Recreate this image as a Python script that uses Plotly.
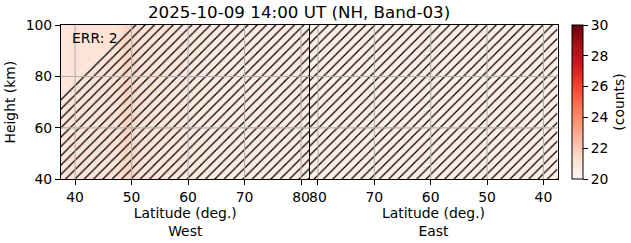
import plotly.graph_objects as go

# ---------------- data ----------------
lat_bins = [38, 39, 40, 41, 42, 43, 44, 45, 46, 47, 48, 49, 50, 51, 52, 53, 54, 55, 56, 57, 58, 59,
            60, 61, 62, 63, 64, 65, 66, 67, 68, 69, 70, 71, 72, 73, 74, 75, 76, 77, 78, 79, 80, 81]
heights = [40, 50, 60, 70, 80, 90, 100]
west_counts = [20.9, 21.0, 21.0, 21.0, 21.0, 21.0, 21.0, 21.1, 21.1, 21.1, 21.3, 21.6, 21.5, 21.2,
               21.0, 21.0, 20.9, 20.9, 20.9, 20.8, 20.8, 20.8, 20.7, 20.7, 20.7, 20.6, 20.6, 20.6,
               20.6, 20.5, 20.5, 20.5, 20.5, 20.5, 20.5, 20.5, 20.5, 20.5, 20.5, 20.5, 20.5, 20.5,
               20.5, 20.5]
east_counts = [20.4, 20.4, 20.4, 20.4, 20.4, 20.4, 20.4, 20.4, 20.4, 20.4, 20.4, 20.4, 20.4, 20.4,
               20.4, 20.4, 20.4, 20.4, 20.4, 20.4, 20.4, 20.4, 20.4, 20.4, 20.4, 20.4, 20.4, 20.4,
               20.4, 20.4, 20.4, 20.4, 20.4, 20.4, 20.4, 20.4, 20.4, 20.4, 20.4, 20.4, 20.4, 20.4,
               20.4, 20.4]
# boundary of the valid (un-hatched) region in the West panel
mask_lat = [37.5, 50.2]
mask_ht = [72, 100]
lat_ticks = [40, 50, 60, 70, 80]
ht_ticks = [40, 60, 80, 100]
cbar_ticks = [20, 22, 24, 26, 28, 30]
title_text = "2025-10-09 14:00 UT (NH, Band-03)"
err_text = "ERR: 2"

# ---------------- layout constants ----------------
W, H = 631, 243
LAT_MIN, LAT_MAX = 37.5, 81.5
HT_MIN, HT_MAX = 40, 100
FONT = "DejaVu Sans"
FS = 13.9

def px(x):
    return x / W

def py(y):
    return (H - y) / H

reds = ["#fff5f0", "#fee0d2", "#fcbba1", "#fc9272", "#fb6a4a",
        "#ef3b2c", "#cb181d", "#a50f15", "#67000d"]
colorscale = [[i / 8, c] for i, c in enumerate(reds)]

z_west = [list(west_counts) for _ in heights]
z_east = [list(east_counts) for _ in heights]

fig = go.Figure()
fig.add_trace(go.Heatmap(x=lat_bins, y=heights, z=z_west, coloraxis="coloraxis",
                         xaxis="x", yaxis="y", hoverinfo="skip"))
fig.add_trace(go.Heatmap(x=lat_bins, y=heights, z=z_east, coloraxis="coloraxis",
                         xaxis="x2", yaxis="y2", hoverinfo="skip"))

pattern = dict(shape="/", size=6.6, solidity=0.2, fgcolor="black",
               bgcolor="rgba(0,0,0,0)", fillmode="replace")
# West hatch: everything except the upper-left valid wedge
hx = [LAT_MIN, LAT_MAX, LAT_MAX, mask_lat[1], mask_lat[0], LAT_MIN]
hy = [HT_MIN, HT_MIN, HT_MAX, mask_ht[1], mask_ht[0], HT_MIN]
fig.add_trace(go.Scatter(x=hx, y=hy, fill="toself", mode="lines", line=dict(width=0),
                         fillcolor="rgba(0,0,0,0)", fillpattern=pattern,
                         xaxis="x", yaxis="y", hoverinfo="skip", showlegend=False))
# East hatch: whole panel
ex = [LAT_MIN, LAT_MAX, LAT_MAX, LAT_MIN, LAT_MIN]
ey = [HT_MIN, HT_MIN, HT_MAX, HT_MAX, HT_MIN]
fig.add_trace(go.Scatter(x=ex, y=ey, fill="toself", mode="lines", line=dict(width=0),
                         fillcolor="rgba(0,0,0,0)", fillpattern=pattern,
                         xaxis="x2", yaxis="y2", hoverinfo="skip", showlegend=False))

x_left = (px(61), px(309.5))
x_right = (px(309.5), px(557.5))
y_dom = (py(179.3), py(25))

axis_common = dict(showline=True, linecolor="black", linewidth=1.1, mirror=True,
                   ticks="outside", ticklen=5, tickwidth=1.1, tickcolor="black",
                   showgrid=False, zeroline=False, automargin=False,
                   tickfont=dict(family=FONT, size=FS, color="black"))

fig.update_layout(
    width=W, height=H, margin=dict(l=0, r=0, t=0, b=0),
    paper_bgcolor="white", plot_bgcolor="white",
    font=dict(family=FONT, size=FS, color="black"),
    showlegend=False,
    xaxis=dict(domain=x_left, range=[LAT_MIN, LAT_MAX], tickvals=lat_ticks, anchor="y",
               title=dict(text="Latitude (deg.)<br>West", font=dict(size=FS), standoff=4),
               **axis_common),
    xaxis2=dict(domain=x_right, range=[LAT_MAX, LAT_MIN], tickvals=lat_ticks, anchor="y2",
                title=dict(text="Latitude (deg.)<br>East", font=dict(size=FS), standoff=4),
                **axis_common),
    yaxis=dict(domain=y_dom, range=[HT_MIN, HT_MAX], tickvals=ht_ticks, anchor="x",
               title=dict(text="Height (km)", font=dict(size=FS), standoff=6),
               **axis_common),
    yaxis2=dict(domain=y_dom, range=[HT_MIN, HT_MAX], matches="y", anchor="x2",
                showticklabels=False, **{k: v for k, v in axis_common.items() if k != "ticks"},
                ticks=""),
    coloraxis=dict(
        colorscale=colorscale, cmin=20, cmax=30,
        colorbar=dict(x=px(572), xanchor="left", y=py(25), yanchor="top",
                      len=(179.3 - 25) / H, lenmode="fraction",
                      thickness=11, thicknessmode="pixels", xpad=0, ypad=0,
                      outlinewidth=1, outlinecolor="black",
                      ticks="outside", ticklen=5, tickwidth=1.1, tickcolor="black",
                      tickvals=cbar_ticks, tickfont=dict(family=FONT, size=FS),
                      title=dict(text="(counts)", side="right",
                                 font=dict(family=FONT, size=FS))),
    ),
)

# gridlines above the heatmap
grid_style = dict(color="#b0b0b0", width=1.1)
for xa, ya in (("x", "y"), ("x2", "y2")):
    for t in lat_ticks:
        fig.add_shape(type="line", xref=xa, yref=f"{ya} domain", x0=t, x1=t, y0=0, y1=1,
                      line=grid_style, layer="above")
    for t in ht_ticks[1:-1]:
        fig.add_shape(type="line", xref=f"{xa} domain", yref=ya, x0=0, x1=1, y0=t, y1=t,
                      line=grid_style, layer="above")

fig.add_annotation(text=title_text, x=px(299), y=py(12), xref="paper", yref="paper",
                   xanchor="center", yanchor="middle", showarrow=False,
                   font=dict(family=FONT, size=16.7, color="black"))
fig.add_annotation(text=err_text, x=px(70), y=py(38), xref="paper", yref="paper",
                   xanchor="left", yanchor="middle", showarrow=False,
                   font=dict(family=FONT, size=FS, color="black"))

fig.write_html("out.html")
